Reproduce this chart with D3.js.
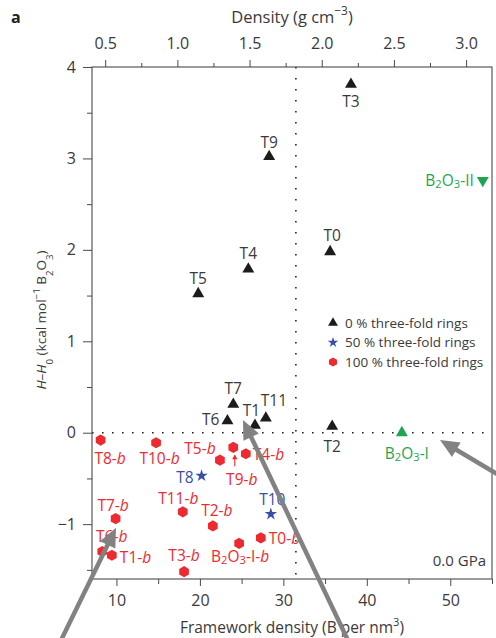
<!DOCTYPE html>
<html>
<head>
<meta charset="utf-8">
<script src="https://cdn.jsdelivr.net/npm/d3@7"></script>
<style>
  html, body { margin: 0; padding: 0; background: #fff; }
  svg { display: block; font-family: "Open Sans", "DejaVu Sans", sans-serif; }
</style>
</head>
<body>
<svg id="chart" width="496" height="638"></svg>
<script>
// ---- data: framework density (B per nm^3) and relative enthalpy (kcal/mol B2O3)
const triNames = ["T0", "T1", "T2", "T3", "T4", "T5", "T6", "T7", "T9", "T11"];
const triFD    = [35.6, 26.6, 35.85, 38.1, 25.8, 19.8, 23.3, 24.0, 28.3, 27.9];
const triH     = [1.98, 0.08, 0.07, 3.81, 1.79, 1.52, 0.13, 0.31, 3.02, 0.16];

const starNames = ["T8", "T10"];
const starFD    = [20.2, 28.5];
const starH     = [-0.47, -0.89];

const hexNames = ["T0-b", "T1-b", "T2-b", "T3-b", "T4-b", "T5-b", "T6-b",
                  "T7-b", "T8-b", "T9-b", "T10-b", "T11-b", "B2O3-I-b"];
const hexFD    = [27.3, 9.45, 21.55, 18.1, 25.5, 22.4, 8.3,
                  9.9, 8.1, 24.0, 14.75, 17.95, 24.7];
const hexH     = [-1.15, -1.34, -1.02, -1.52, -0.23, -0.30, -1.30,
                  -0.94, -0.08, -0.16, -0.11, -0.865, -1.21];

const refNames = ["B2O3-I", "B2O3-II"];
const refFD    = [44.2, 53.9];
const refH     = [0.0, 2.76];

const xTicks = [10, 20, 30, 40, 50];
const xMinor = [15, 25, 35, 45, 55];
const yTicks = [-1, 0, 1, 2, 3, 4];
const yMinor = [-1.5, -0.5, 0.5, 1.5, 2.5, 3.5];
const densTicks = [0.5, 1.0, 1.5, 2.0, 2.5, 3.0];
const densMinor = [0.75, 1.25, 1.75, 2.25, 2.75];

const legendLabels = ["0 % three-fold rings", "50 % three-fold rings", "100 % three-fold rings"];
const pressureLabel = "0.0 GPa";
const fdDivider = 31.5;

// mass of one B in B2O3 (g/mol) / Avogadro, scaled so density = FD * k
const densPerFD = 34.81 / 602.2;

// ---- label placement (pixel offsets from each marker: dx, dy, anchor)
const labelPos = {
  "T0": [2, -16, "middle"], "T1": [-3.5, -15, "middle"], "T2": [0, 20, "middle"],
  "T3": [0, 17.5, "middle"], "T4": [0, -15.5, "middle"], "T5": [0, -15, "middle"],
  "T6": [-8, -1, "end"], "T7": [0, -15.5, "middle"], "T9": [0, -14, "middle"],
  "T11": [-5, -17.5, "start"],
  "T8": [-8, 1.5, "end"], "T10": [1.5, -15, "middle"],
  "T0-b": [8, 0.5, "start"], "T1-b": [8, 2, "start"], "T2-b": [4, -16, "middle"],
  "T3-b": [0, -16, "middle"], "T4-b": [7, 0.5, "start"], "T5-b": [-20, -11.5, "middle"],
  "T6-b": [9.5, -15, "middle"], "T7-b": [-2.5, -13.5, "middle"], "T8-b": [9.5, 18, "middle"],
  "T9-b": [8.5, 32, "middle"], "T10-b": [3.5, 16, "middle"], "T11-b": [-4.5, -13.5, "middle"],
  "B2O3-I-b": [1, 13.5, "middle"],
  "B2O3-I": [5, 21, "middle"], "B2O3-II": [-9, 0, "end"]
};

// ---- colours and type sizes
const cBlack = "#1c1c1c", cBlue = "#3a4ea6", cRed = "#ec2a2f", cGreen = "#1fa552";
const cAxis = "#4a4a4a", cText = "#3a3a3a", cArrow = "#828282";
const fsTick = 16, fsLabel = 15.5, fsTitle = 15.5, fsLegend = 13.5;

const svg = d3.select("#chart");
const m = { left: 92, right: 492, top: 67, bottom: 579 };

const x = d3.scaleLinear().domain([7.07, 55]).range([m.left, m.right]);
const y = d3.scaleLinear().domain([-1.6, 4]).range([m.bottom, m.top]);
const xDens = d3.scaleLinear()
  .domain([x.domain()[0] * densPerFD, x.domain()[1] * densPerFD])
  .range([m.left, m.right]);

// ---- rich text helper: subscripts in B2O3, italic suffix b
function richText(sel, name) {
  sel.text(null);
  let rest = name;
  if (rest.startsWith("B2O3")) {
    sel.append("tspan").text("B");
    sel.append("tspan").attr("baseline-shift", "-22%").attr("font-size", "72%").text("2");
    sel.append("tspan").text("O");
    sel.append("tspan").attr("baseline-shift", "-22%").attr("font-size", "72%").text("3");
    rest = rest.slice(4);
  }
  if (rest.endsWith("-b")) {
    sel.append("tspan").text(rest.slice(0, -1));
    sel.append("tspan").attr("font-style", "italic").text("b");
  } else {
    sel.append("tspan").text(rest);
  }
}

// ---- reference lines (dotted)
svg.append("line")
  .attr("x1", x(fdDivider)).attr("x2", x(fdDivider))
  .attr("y1", y(4)).attr("y2", y(-1.6))
  .attr("stroke", "#222").attr("stroke-width", 1.6)
  .attr("stroke-dasharray", "1.6,9.4");
svg.append("line")
  .attr("x1", x.range()[0]).attr("x2", x.range()[1])
  .attr("y1", y(0)).attr("y2", y(0))
  .attr("stroke", "#222").attr("stroke-width", 1.6)
  .attr("stroke-dasharray", "1.6,8.4");

// ---- axes
function styleAxis(g) {
  g.select(".domain").remove();
  g.selectAll(".tick line").attr("stroke", cAxis).attr("stroke-width", 1);
  g.selectAll(".tick text").attr("fill", cText).attr("font-size", fsTick)
    .attr("font-family", "'Open Sans', sans-serif");
}
const minus = d => (d < 0 ? "\u2212" + Math.abs(d) : String(d));

svg.append("g").attr("transform", `translate(0,${m.bottom})`)
  .call(d3.axisBottom(x).tickValues(xTicks).tickSize(7).tickPadding(9))
  .call(styleAxis);
svg.append("g").attr("transform", `translate(0,${m.bottom})`)
  .call(d3.axisBottom(x).tickValues(xMinor).tickSize(5).tickFormat(""))
  .call(styleAxis);

svg.append("g").attr("transform", `translate(${m.left},0)`)
  .call(d3.axisLeft(y).tickValues(yTicks).tickSize(9).tickPadding(7).tickFormat(minus))
  .call(styleAxis);
svg.append("g").attr("transform", `translate(${m.left},0)`)
  .call(d3.axisLeft(y).tickValues(yMinor).tickSize(5).tickFormat(""))
  .call(styleAxis);

svg.append("g").attr("transform", `translate(0,${m.top})`)
  .call(d3.axisTop(xDens).tickValues(densTicks).tickSize(7).tickPadding(11).tickFormat(d3.format(".1f")))
  .call(styleAxis);
svg.append("g").attr("transform", `translate(0,${m.top})`)
  .call(d3.axisTop(xDens).tickValues(densMinor).tickSize(4).tickFormat(""))
  .call(styleAxis);

// frame
svg.append("rect")
  .attr("x", m.left).attr("y", m.top)
  .attr("width", m.right - m.left).attr("height", m.bottom - m.top)
  .attr("fill", "none").attr("stroke", cAxis).attr("stroke-width", 1.1);

// ---- axis titles
svg.append("text").attr("x", 11).attr("y", 23)
  .attr("font-weight", "bold").attr("font-size", 16).attr("fill", "#222").text("a");

const topTitle = svg.append("text").attr("x", 292).attr("y", 23)
  .attr("text-anchor", "middle").attr("font-size", 16.5).attr("fill", cText);
topTitle.append("tspan").text("Density (g cm");
topTitle.append("tspan").attr("baseline-shift", "super").attr("font-size", "72%").text("\u22123");
topTitle.append("tspan").text(")");

const botTitle = svg.append("text").attr("x", 292).attr("y", 633)
  .attr("text-anchor", "middle").attr("font-size", fsTitle).attr("fill", cText);
botTitle.append("tspan").text("Framework density (B per nm");
botTitle.append("tspan").attr("baseline-shift", "super").attr("font-size", "72%").text("3");
botTitle.append("tspan").text(")");

const yTitle = svg.append("text")
  .attr("transform", "translate(46,320) rotate(-90)")
  .attr("text-anchor", "middle").attr("font-size", 13.5).attr("fill", cText);
yTitle.append("tspan").attr("font-style", "italic").text("H");
yTitle.append("tspan").text("\u2013");
yTitle.append("tspan").attr("font-style", "italic").text("H");
yTitle.append("tspan").attr("baseline-shift", "sub").attr("font-size", "72%").text("0");
yTitle.append("tspan").text(" (kcal mol");
yTitle.append("tspan").attr("baseline-shift", "super").attr("font-size", "72%").text("\u22121");
yTitle.append("tspan").text(" B");
yTitle.append("tspan").attr("baseline-shift", "sub").attr("font-size", "72%").text("2");
yTitle.append("tspan").text("O");
yTitle.append("tspan").attr("baseline-shift", "sub").attr("font-size", "72%").text("3");
yTitle.append("tspan").text(")");

// ---- marker shapes
const triPath = d3.symbol(d3.symbolTriangle, 62)();
const starPath = d3.symbol(d3.symbolStar, 48)();
function hexPath(r) {
  const pts = d3.range(6).map(k => {
    const a = Math.PI / 180 * (60 * k - 90);
    return [r * Math.cos(a), r * Math.sin(a)];
  });
  return "M" + pts.map(p => p.join(",")).join("L") + "Z";
}
const hexShape = hexPath(5.6);

function drawSeries(names, fd, h, path, color, textColor, rotate) {
  const rows = names.map((n, i) => ({ name: n, fd: fd[i], h: h[i] }));
  const g = svg.append("g");
  g.selectAll("path").data(rows).join("path")
    .attr("d", path)
    .attr("transform", d => `translate(${x(d.fd)},${y(d.h)})` + (rotate ? " rotate(180)" : ""))
    .attr("fill", color);
  g.selectAll("text").data(rows).join("text")
    .attr("x", d => x(d.fd) + labelPos[d.name][0])
    .attr("y", d => y(d.h) + labelPos[d.name][1])
    .attr("dy", "0.36em")
    .attr("text-anchor", d => labelPos[d.name][2])
    .attr("font-size", fsLabel)
    .attr("fill", textColor)
    .each(function (d) { richText(d3.select(this), d.name); });
}

drawSeries(triNames, triFD, triH, triPath, cBlack, cText, false);
drawSeries(starNames, starFD, starH, starPath, cBlue, cBlue, false);
drawSeries(hexNames, hexFD, hexH, hexShape, cRed, cRed, false);
drawSeries(refNames.slice(0, 1), refFD.slice(0, 1), refH.slice(0, 1), triPath, cGreen, cGreen, false);
drawSeries(refNames.slice(1), refFD.slice(1), refH.slice(1), triPath, cGreen, cGreen, true);

// small pointer from the T9-b label up to its marker
{
  const i = hexNames.indexOf("T9-b");
  const px = x(hexFD[i]) + 1.5, py = y(hexH[i]);
  svg.append("line").attr("x1", px).attr("x2", px)
    .attr("y1", py + 19).attr("y2", py + 10)
    .attr("stroke", cRed).attr("stroke-width", 1.1);
  svg.append("path")
    .attr("d", `M${px},${py + 7}L${px - 2.6},${py + 12}L${px + 2.6},${py + 12}Z`)
    .attr("fill", cRed);
}

// ---- legend
const legend = svg.append("g").attr("transform", "translate(333,323)");
const legShapes = [
  { d: d3.symbol(d3.symbolTriangle, 42)(), c: cBlack },
  { d: d3.symbol(d3.symbolStar, 34)(), c: cBlue },
  { d: hexPath(4.6), c: cRed }
];
legendLabels.forEach((t, i) => {
  legend.append("path").attr("d", legShapes[i].d)
    .attr("transform", `translate(0,${i * 19.5})`).attr("fill", legShapes[i].c);
  legend.append("text").attr("x", 12).attr("y", i * 19.5).attr("dy", "0.36em")
    .attr("font-size", fsLegend).attr("fill", cText).text(t);
});

svg.append("text").attr("x", 486).attr("y", 561).attr("dy", "0.36em")
  .attr("text-anchor", "end").attr("font-size", 15).attr("fill", cText).text(pressureLabel);

// ---- grey call-out arrows (tip and tail in data units)
const arrowTips  = [[9.95, -1.04], [25.16, 0.14], [48.77, -0.08]];
const arrowTails = [[3.36, -2.27], [37.74, -2.27], [55.95, -0.47]];
arrowTips.forEach((tip, i) => {
  const tx = x(tip[0]), ty = y(tip[1]);
  const sx = x(arrowTails[i][0]), sy = y(arrowTails[i][1]);
  const dx = tx - sx, dy = ty - sy, len = Math.hypot(dx, dy);
  const ux = dx / len, uy = dy / len;
  const headL = 19, headW = 8.5;
  const bx = tx - ux * headL, by = ty - uy * headL;
  svg.append("line").attr("x1", sx).attr("y1", sy).attr("x2", bx + ux * 2).attr("y2", by + uy * 2)
    .attr("stroke", cArrow).attr("stroke-width", 4.5);
  svg.append("path")
    .attr("d", `M${tx},${ty}L${bx - uy * headW},${by + ux * headW}L${bx + uy * headW},${by - ux * headW}Z`)
    .attr("fill", cArrow);
});
</script>
</body>
</html>
